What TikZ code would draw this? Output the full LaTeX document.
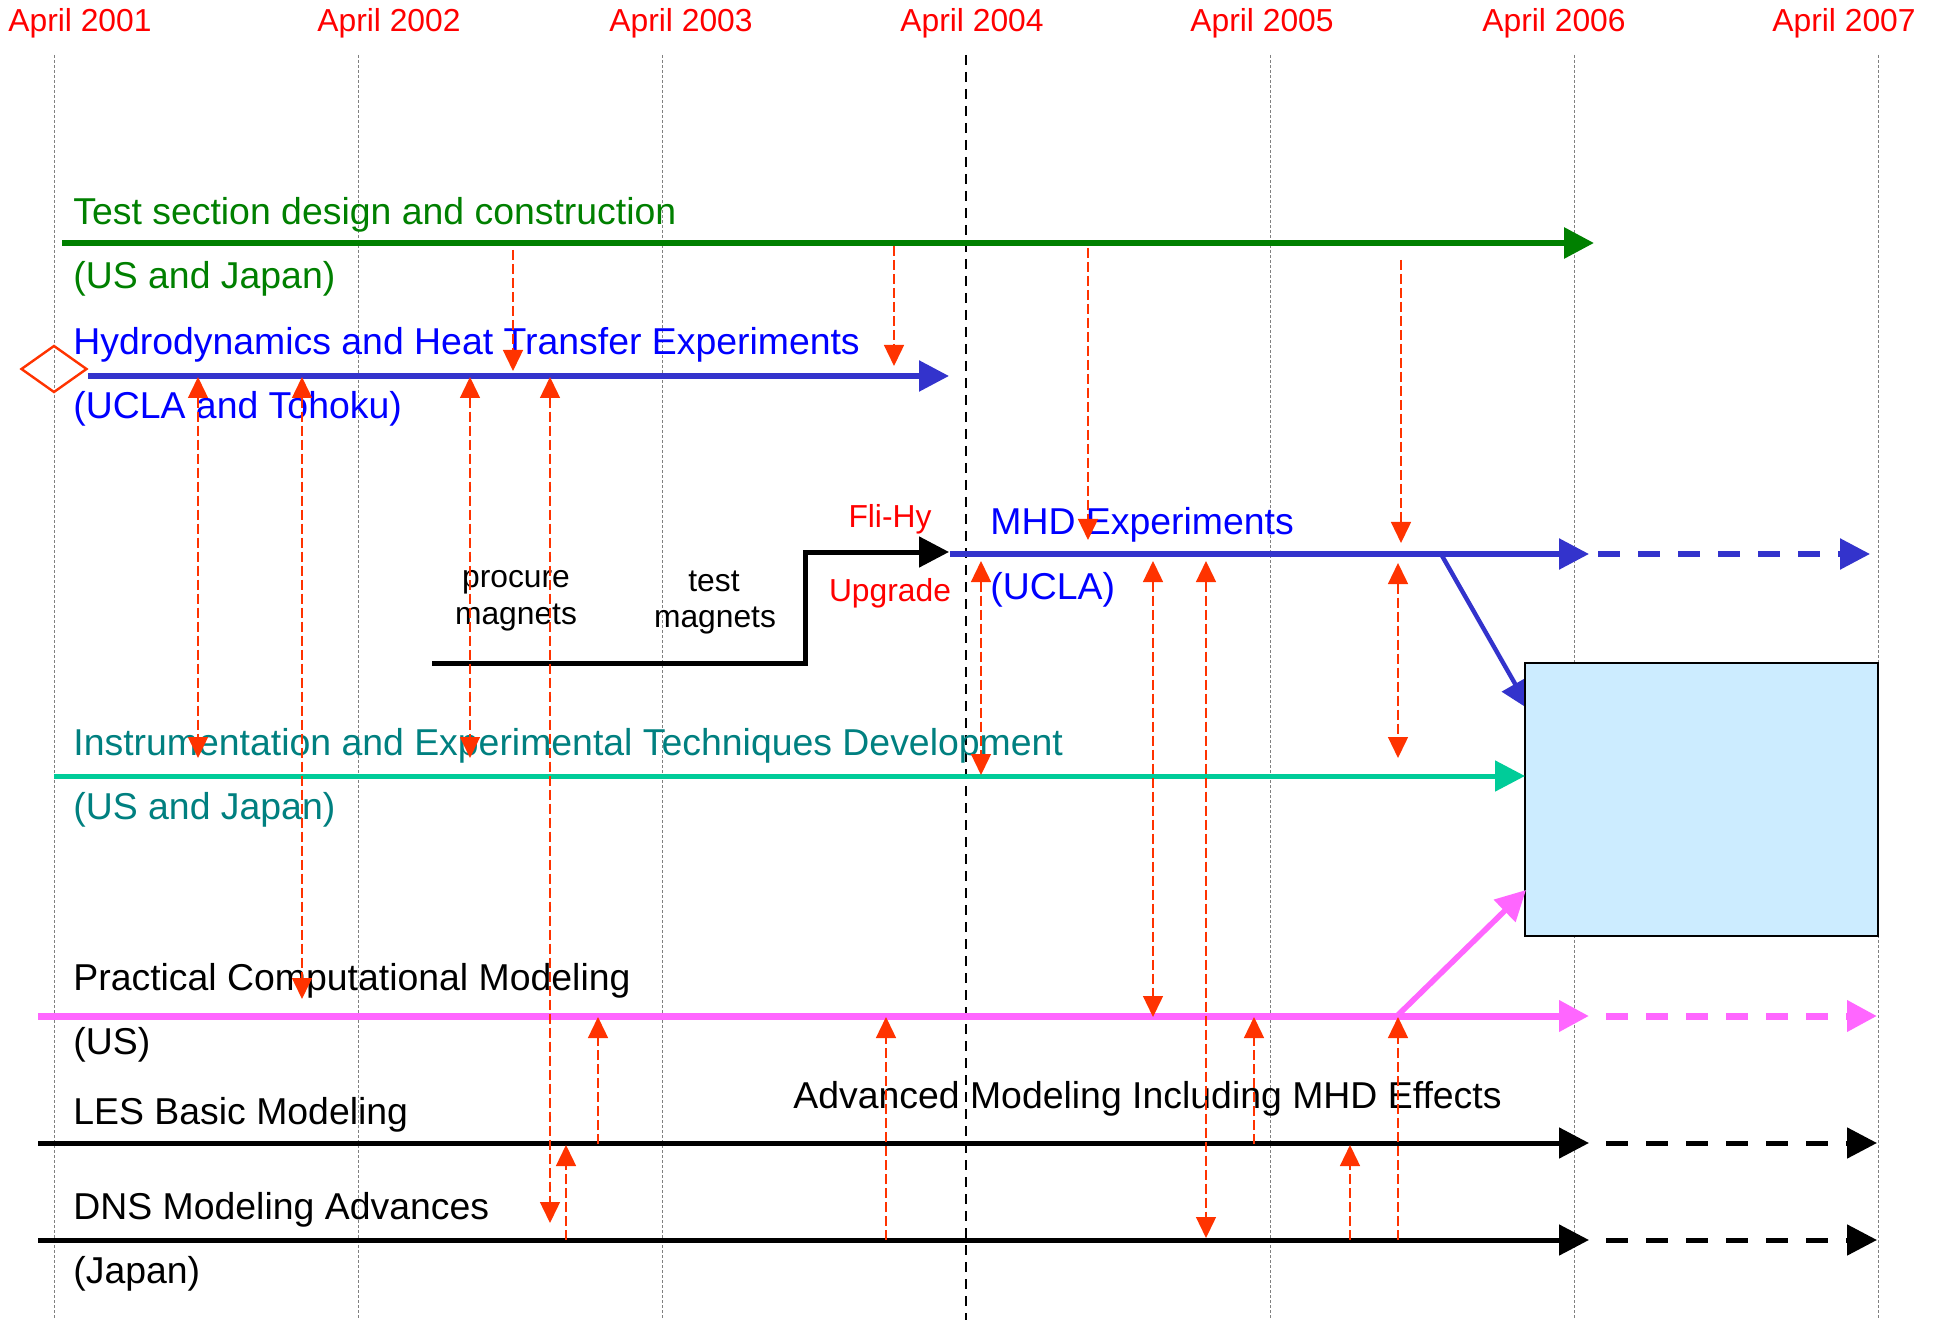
\documentclass[tikz,border=0pt]{standalone}
\usepackage{fontspec}
\setmainfont{Liberation Sans}
\usetikzlibrary{arrows.meta,shapes.geometric}
\usepackage{xcolor}
\definecolor{yearred}{HTML}{FF0000}
\definecolor{linkred}{HTML}{FF3300}
\definecolor{tsgreen}{HTML}{008000}
\definecolor{hbblue}{HTML}{3333CC}
\definecolor{txtblue}{HTML}{0000FF}
\definecolor{itdteal}{HTML}{00CC99}
\definecolor{txtteal}{HTML}{008080}
\definecolor{pcmpink}{HTML}{FF66FF}
\definecolor{boxblue}{HTML}{CCECFF}

\begin{document}
\begin{tikzpicture}[x=0.5pt,y=-0.5pt,>={Triangle[length=15pt,width=15pt]},
    redtip/.tip={Triangle[length=10.5pt,width=10pt]},
    lbl/.style={font=\fontsize{18.7pt}{22pt}\selectfont,anchor=base west,inner sep=0pt},
    note/.style={font=\fontsize{15.9pt}{19pt}\selectfont,anchor=base,inner sep=0pt},
    yearline/.style={draw=black!50,line width=0.5pt,dash pattern=on 1.5pt off 1pt},
    nowline/.style={draw=black,line width=1pt,dash pattern=on 5pt off 3.5pt},
    track/.style={->,line width=2.5pt}, later/.style={track,dash pattern=on 11pt off 9pt},
    link/.style={draw=linkred,line width=0.7pt,dash pattern=on 5pt off 2pt},
    linkto/.style={link,-redtip}, linkboth/.style={link,redtip-redtip},
    outbox/.style={draw,line width=1pt,fill=boxblue,inner sep=0pt,outer sep=0pt,
      minimum width=176.5pt,minimum height=136.5pt,anchor=north west}]
  \path[use as bounding box,fill=white] (0,0) rectangle (1937,1320);
  \foreach \x in {54,358,662,1270,1574,1878} \draw[yearline] (\x,55) -- (\x,1320);
  \draw[nowline] (966,55) -- (966,1320);
  \foreach \yr/\x in {2001/80,2002/389,2003/681,2004/972,2005/1262,2006/1554,2007/1844}
    \node[note,text=yearred] (year\yr) at (\x,32) {April \yr};

  \coordinate (tsS) at (62,243); \coordinate (tsE) at (1594,243);
  \draw[track,tsgreen,line width=3pt] (tsS) -- (tsE);
  \node[diamond,draw=linkred,line width=1.2pt,inner sep=0pt,minimum width=33pt,minimum height=23.5pt] (kick) at (54,369) {};
  \coordinate (hhE) at (949,376);
  \draw[track,hbblue,line width=2.75pt] (kick.east |- hhE) -- (hhE);
  \coordinate (mgS) at (432,663); \coordinate (mgK) at (805,663); \coordinate (mgE) at (949,552);
  \draw[track] (mgS) -- (mgK) |- (mgE);

  \coordinate (mhdS) at (950,554); \coordinate (mhdE) at (1589,554);
  \coordinate (mhdL) at (1598,554); \coordinate (mhdLE) at (1870,554);
  \coordinate (mhdF) at (1441,554); \coordinate (mhdIn) at (1530,710);
  \draw[track,hbblue,line width=2.75pt] (mhdS) -- (mhdE);
  \draw[later,hbblue,line width=2.75pt] (mhdL) -- (mhdLE);
  \draw[->,hbblue,line width=2.2pt] (mhdF) -- (mhdIn);
  \node[outbox] (outcome) at (1525,663) {};
  \coordinate (itdS) at (54,776);
  \draw[track,itdteal] (itdS) -- (itdS -| outcome.west);

  \coordinate (pcmS) at (38,1016); \coordinate (pcmE) at (1589,1016);
  \coordinate (pcmL) at (1606,1016); \coordinate (pcmLE) at (1877,1016);
  \coordinate (pcmF) at (1397,1016); \coordinate (pcmIn) at (1526,890);
  \draw[track,pcmpink,line width=3.5pt] (pcmS) -- (pcmE);
  \draw[later,pcmpink,line width=3.5pt] (pcmL) -- (pcmLE);
  \draw[->,pcmpink,line width=2.8pt] (pcmF) -- (pcmIn);
  \coordinate (lesS) at (38,1143); \coordinate (lesE) at (1589,1143);
  \coordinate (lesL) at (1606,1143); \coordinate (lesLE) at (1877,1143);
  \coordinate (dnsS) at (38,1240); \coordinate (dnsE) at (1589,1240);
  \coordinate (dnsL) at (1606,1240); \coordinate (dnsLE) at (1877,1240);
  \draw[track] (lesS) -- (lesE); \draw[later] (lesL) -- (lesLE);
  \draw[track] (dnsS) -- (dnsE); \draw[later] (dnsL) -- (dnsLE);

  \node[lbl,text=tsgreen] (tsName) at (73,225) {Test section design and construction};
  \node[lbl,text=tsgreen] (tsWho) at (73,289) {(US and Japan)};
  \node[lbl,text=txtblue] (hhName) at (73,355) {Hydrodynamics and Heat Transfer Experiments};
  \node[lbl,text=txtblue] (hhWho) at (73,419) {(UCLA and Tohoku)};
  \node[lbl,text=txtblue] (mhdName) at (990,535) {MHD Experiments};
  \node[lbl,text=txtblue] (mhdWho) at (990,599) {(UCLA)};
  \node[lbl,text=txtteal] (itdName) at (73,755) {Instrumentation and Experimental Techniques Development};
  \node[lbl,text=txtteal] (itdWho) at (73,819) {(US and Japan)};
  \node[lbl] (pcmName) at (73,990) {Practical Computational Modeling};
  \node[lbl] (pcmWho) at (73,1054) {(US)};
  \node[lbl] (lesName) at (73,1124) {LES Basic Modeling};
  \node[lbl] (advName) at (793,1108) {Advanced Modeling Including MHD Effects};
  \node[lbl] (dnsName) at (73,1219) {DNS Modeling Advances};
  \node[lbl] (dnsWho) at (73,1283) {(Japan)};
  \node[note,text=yearred] (flihy) at (890,528) {Fli-Hy};
  \node[note,text=yearred] (upgrade) at (890,601) {Upgrade};
  \node[note] (procure) at (516,588) {procure};
  \node[note] (procureM) at (516,624) {magnets};
  \node[note] (test) at (714,591) {test};
  \node[note] (testM) at (715,627) {magnets};

  \foreach \x/\ya/\yb in {513/250/371,894/246/366,1088/248/540,1401/260/543,
      598/1144/1017,566/1240/1145,886/1240/1017,1254/1144/1017,1350/1240/1145,1398/1240/1017}
    \draw[linkto] (\x,\ya) -- (\x,\yb);
  \foreach \x/\ya/\yb in {198/377/758,302/377/999,470/377/758,550/377/1223,
      981/561/775,1153/561/1017,1206/561/1238,1398/563/758}
    \draw[linkboth] (\x,\ya) -- (\x,\yb);
\end{tikzpicture}
\end{document}
